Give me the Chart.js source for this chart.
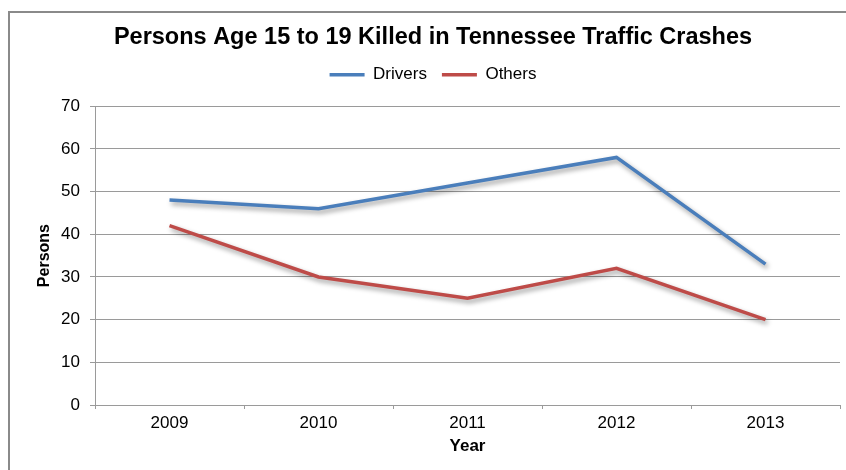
<!DOCTYPE html>
<html>
<head>
<meta charset="utf-8">
<script src="https://cdn.jsdelivr.net/npm/chart.js@4/dist/chart.umd.min.js"></script>
<style>
    html, body { margin: 0; padding: 0; background: #fff; overflow: hidden; }
    #wrap { position: relative; width: 846px; height: 470px; }
</style>
</head>
<body>
<div id="wrap"><canvas id="chartCanvas"></canvas></div>
<script>
// DATA
const years = ['2009', '2010', '2011', '2012', '2013'];
const drivers = [48, 46, 52, 58, 33];
const others = [42, 30, 25, 32, 20];
const yMin = 0;
const yMax = 70;
const yStep = 10;

const FONT = "'Liberation Sans', Arial, sans-serif";
const GRID = '#9a9a9a';

// outer frame: only the left and top edges fall inside the canvas
const framePlugin = {
    id: 'frame',
    beforeDraw(chart) {
        const ctx = chart.ctx;
        ctx.save();
        ctx.strokeStyle = '#8a8a8a';
        ctx.lineWidth = 2;
        ctx.beginPath();
        ctx.moveTo(9, chart.height);
        ctx.lineTo(9, 12);
        ctx.lineTo(chart.width, 12);
        ctx.stroke();
        ctx.restore();
    }
};

// soft drop shadow under the lines
const shadowPlugin = {
    id: 'lineShadow',
    beforeDatasetDraw(chart) {
        const ctx = chart.ctx;
        ctx.save();
        ctx.shadowColor = 'rgba(0, 0, 0, 0.4)';
        ctx.shadowBlur = 5;
        ctx.shadowOffsetX = 2;
        ctx.shadowOffsetY = 3;
    },
    afterDatasetDraw(chart) {
        chart.ctx.restore();
    }
};

const ctx = document.getElementById('chartCanvas').getContext('2d');

new Chart(ctx, {
    type: 'line',
    data: {
        labels: years,
        datasets: [{
            label: 'Drivers',
            data: drivers,
            borderColor: '#4a7ebb',
            backgroundColor: '#4a7ebb',
            borderWidth: 3.5,
            pointRadius: 0,
            tension: 0
        }, {
            label: 'Others',
            data: others,
            borderColor: '#be4b48',
            backgroundColor: '#be4b48',
            borderWidth: 3.5,
            pointRadius: 0,
            tension: 0
        }]
    },
    options: {
        responsive: true,
        maintainAspectRatio: false,
        animation: false,
        layout: { padding: { left: 26, right: 6, top: 0, bottom: 5 } },
        plugins: {
            title: {
                display: true,
                text: 'Persons Age 15 to 19 Killed in Tennessee Traffic Crashes',
                color: '#000',
                font: { family: FONT, size: 23.5, weight: 'bold', lineHeight: 1.2 },
                padding: { top: 23, bottom: 0 }
            },
            legend: {
                display: true,
                position: 'top',
                labels: {
                    color: '#000',
                    font: { family: FONT, size: 17 },
                    usePointStyle: true,
                    pointStyle: 'line',
                    pointStyleWidth: 35,
                    padding: 15
                }
            },
            // empty spacer between the legend and the plot
            subtitle: {
                display: true,
                text: '',
                weight: 500,
                font: { size: 10, lineHeight: 1 },
                padding: { top: 3, bottom: 0 }
            },
            tooltip: { enabled: false }
        },
        scales: {
            x: {
                offset: true,
                afterFit(scale) { scale.height = 60; },
                grid: {
                    offset: true,
                    drawOnChartArea: false,
                    drawTicks: true,
                    tickLength: 4,
                    color: GRID
                },
                border: { color: GRID, width: 1 },
                ticks: {
                    color: '#000',
                    padding: 4,
                    font: { family: FONT, size: 17 }
                },
                title: {
                    display: true,
                    text: 'Year',
                    color: '#000',
                    font: { family: FONT, size: 17, weight: 'bold', lineHeight: 1.2 },
                    padding: { top: 0, bottom: 8 }
                }
            },
            y: {
                min: yMin,
                max: yMax,
                afterFit(scale) { scale.width = 69; },
                grid: {
                    color: GRID,
                    tickLength: 5,
                    drawTicks: true
                },
                border: { color: GRID, width: 1 },
                ticks: {
                    stepSize: yStep,
                    color: '#000',
                    padding: 10,
                    font: { family: FONT, size: 17 }
                },
                title: {
                    display: true,
                    text: 'Persons',
                    color: '#000',
                    font: { family: FONT, size: 16, weight: 'bold', lineHeight: 1.2 },
                    padding: { top: 9, bottom: 0 }
                }
            }
        }
    },
    plugins: [framePlugin, shadowPlugin]
});
</script>
</body>
</html>
